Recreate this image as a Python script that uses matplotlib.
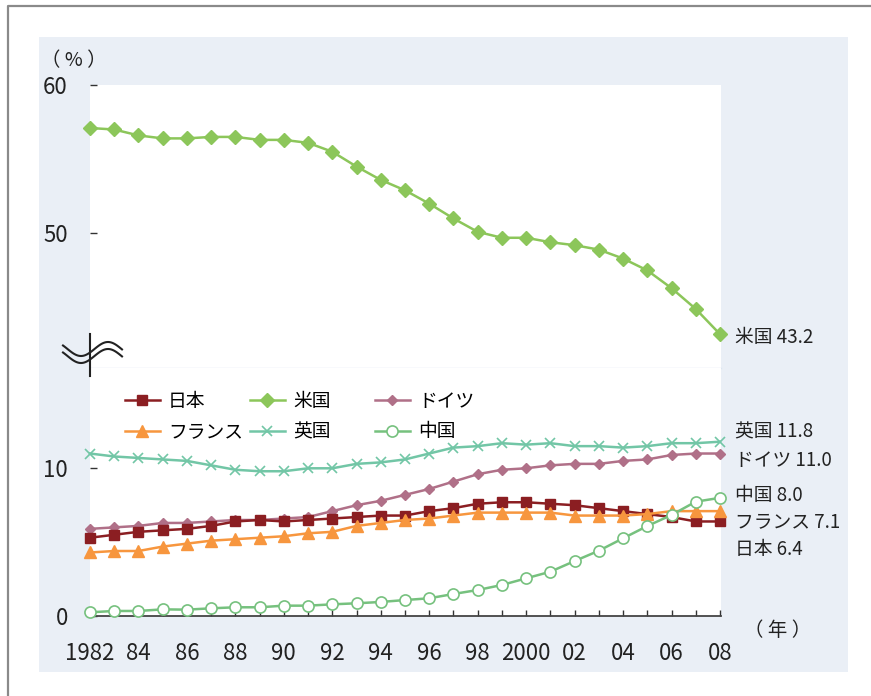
import matplotlib
matplotlib.use('Agg')
import matplotlib.pyplot as plt
from matplotlib.lines import Line2D
from matplotlib.patches import Rectangle
import numpy as np

plt.rcParams['font.family'] = ['Noto Sans CJK JP', 'DejaVu Sans']

# ---------------- data ----------------
years = list(range(1982, 2009))
xtick_labels = ['1982', '', '84', '', '86', '', '88', '', '90', '', '92', '', '94', '',
                '96', '', '98', '', '2000', '', '02', '', '04', '', '06', '', '08']

us = [57.1, 57.0, 56.6, 56.4, 56.4, 56.5, 56.5, 56.3, 56.3, 56.1, 55.5, 54.5, 53.6,
      52.9, 52.0, 51.0, 50.1, 49.7, 49.7, 49.4, 49.2, 48.9, 48.3, 47.5, 46.3, 44.9, 43.2]
uk = [11.0, 10.8, 10.7, 10.6, 10.5, 10.2, 9.9, 9.8, 9.8, 10.0, 10.0, 10.3, 10.4,
      10.6, 11.0, 11.4, 11.5, 11.7, 11.6, 11.7, 11.5, 11.5, 11.4, 11.5, 11.7, 11.7, 11.8]
germany = [5.9, 6.0, 6.1, 6.3, 6.3, 6.4, 6.5, 6.5, 6.6, 6.7, 7.1, 7.5, 7.8,
           8.2, 8.6, 9.1, 9.6, 9.9, 10.0, 10.2, 10.3, 10.3, 10.5, 10.6, 10.9, 11.0, 11.0]
japan = [5.3, 5.5, 5.7, 5.8, 5.9, 6.1, 6.4, 6.5, 6.4, 6.5, 6.6, 6.7, 6.8,
         6.8, 7.1, 7.3, 7.6, 7.7, 7.7, 7.6, 7.5, 7.3, 7.1, 6.9, 6.7, 6.4, 6.4]
france = [4.3, 4.4, 4.4, 4.7, 4.9, 5.1, 5.2, 5.3, 5.4, 5.6, 5.7, 6.1, 6.3,
          6.5, 6.6, 6.8, 7.0, 7.0, 7.0, 7.0, 6.8, 6.8, 6.8, 6.9, 7.1, 7.1, 7.1]
china = [0.25, 0.34, 0.34, 0.45, 0.43, 0.52, 0.59, 0.59, 0.7, 0.7, 0.79, 0.86, 0.95,
         1.08, 1.2, 1.49, 1.76, 2.1, 2.55, 3.0, 3.72, 4.42, 5.26, 6.09, 6.84, 7.74, 8.0]

names = {'japan': '日本', 'us': '米国', 'germany': 'ドイツ',
         'france': 'フランス', 'uk': '英国', 'china': '中国'}
end_labels = {'us': '米国 43.2', 'uk': '英国 11.8', 'germany': 'ドイツ 11.0',
              'china': '中国 8.0', 'france': 'フランス 7.1', 'japan': '日本 6.4'}

# ---------------- figure ----------------
W, H = 871, 696
fig = plt.figure(figsize=(W / 100, H / 100), dpi=100)


def fx(x):
    return x / W


def fy(y):
    return 1 - y / H


fig.patches.append(Rectangle((fx(39), fy(672)), fx(848) - fx(39), fy(37) - fy(672),
                             transform=fig.transFigure, facecolor='#EAEFF6',
                             edgecolor='none', zorder=-5))
fig.lines.append(Line2D([fx(8), fx(8), 1], [0, fy(6), fy(6)], transform=fig.transFigure,
                        color='#8a8a8a', lw=1.6))

L, R = 90, 721
ax_top = fig.add_axes([fx(L), fy(368), fx(R) - fx(L), fy(85) - fy(368)])
ax_bot = fig.add_axes([fx(L), fy(616), fx(R) - fx(L), fy(368) - fy(616)])

xmax = 2008 + 1 / 24.23
for ax in (ax_top, ax_bot):
    ax.set_facecolor('white')
    ax.set_xlim(1982, xmax)
    for s in ('left', 'right', 'top'):
        ax.spines[s].set_visible(False)

ax_top.set_ylim(40.92, 60)
ax_bot.set_ylim(0, 16.79)
ax_top.spines['bottom'].set_color('#DCE5F0')
ax_top.spines['bottom'].set_linewidth(1.0)
ax_bot.spines['bottom'].set_color('#444444')
ax_bot.spines['bottom'].set_linewidth(1.3)

ax_top.set_xticks([])
ax_top.set_yticks([50, 60])
ax_top.set_yticklabels(['50', '60'])
ax_bot.set_yticks([0, 10])
ax_bot.set_yticklabels(['0', '10'])
ax_bot.set_xticks(years)
ax_bot.set_xticklabels(xtick_labels)
for ax in (ax_top, ax_bot):
    ax.tick_params(axis='y', direction='in', length=5, width=1, color='#333333',
                   pad=16, labelsize=16, labelcolor='#222222')
ax_bot.tick_params(axis='x', direction='in', length=4.5, width=1, color='#333333',
                   pad=19, labelsize=16, labelcolor='#222222')

lw = 1.8
h_us, = ax_top.plot(years, us, color='#8CC65A', marker='D', ms=7.5, lw=lw, clip_on=False, zorder=3)
h_de, = ax_bot.plot(years, germany, color='#B07088', marker='D', ms=5.5, lw=lw, clip_on=False, zorder=3)
h_uk, = ax_bot.plot(years, uk, color='#72C6A6', marker='x', ms=7, mew=1.2, lw=lw, clip_on=False, zorder=3)
h_jp, = ax_bot.plot(years, japan, color='#8B1E22', marker='s', ms=7, lw=lw, clip_on=False, zorder=4)
h_fr, = ax_bot.plot(years, france, color='#F7963E', marker='^', ms=8, lw=lw, clip_on=False, zorder=4)
h_cn, = ax_bot.plot(years, china, color='#76C17E', marker='o', ms=8, mfc='white', mew=1.2,
                    lw=lw, clip_on=False, zorder=5)

# legends (three columns)
cols = [((h_jp, h_fr), (names['japan'], names['france']), 125),
        ((h_us, h_uk), (names['us'], names['uk']), 250),
        ((h_de, h_cn), (names['germany'], names['china']), 375)]
for hs, labs, xpos in cols:
    lg = fig.legend(hs, labs, loc='upper left', bbox_to_anchor=(fx(xpos), fy(391)),
                    frameon=False, fontsize=13.5, handlelength=1.85, handletextpad=0.45,
                    labelspacing=0.5, borderpad=0, borderaxespad=0)

# end labels
label_pos = {'us': (ax_top, 43.0), 'uk': (ax_bot, 12.46), 'germany': (ax_bot, 10.56),
             'china': (ax_bot, 8.19), 'france': (ax_bot, 6.36), 'japan': (ax_bot, 4.47)}
for k, (ax, yv) in label_pos.items():
    ax.annotate(end_labels[k], xy=(1, yv), xycoords=('axes fraction', 'data'),
                xytext=(10, 0), textcoords='offset points', ha='left', va='center',
                fontsize=13.5, color='#222222', annotation_clip=False)

fig.text(fx(74), fy(61), '（ % ）', ha='center', va='center', fontsize=14, color='#222222')
fig.text(fx(778), fy(630), '（ 年 ）', ha='center', va='center', fontsize=14, color='#222222')

# axis break symbol
fig.lines.append(Line2D([fx(90), fx(90)], [fy(334), fy(376)], transform=fig.transFigure,
                        color='#222222', lw=1.5))
xs = np.linspace(63, 122, 80)
for c in (349, 356):
    ys = c + 7 * np.cos(2 * np.pi * (xs - 81) / 54)
    fig.lines.append(Line2D(fx(xs), fy(ys), transform=fig.transFigure, color='#222222', lw=1.5))

fig.savefig('out.png', dpi=100)
